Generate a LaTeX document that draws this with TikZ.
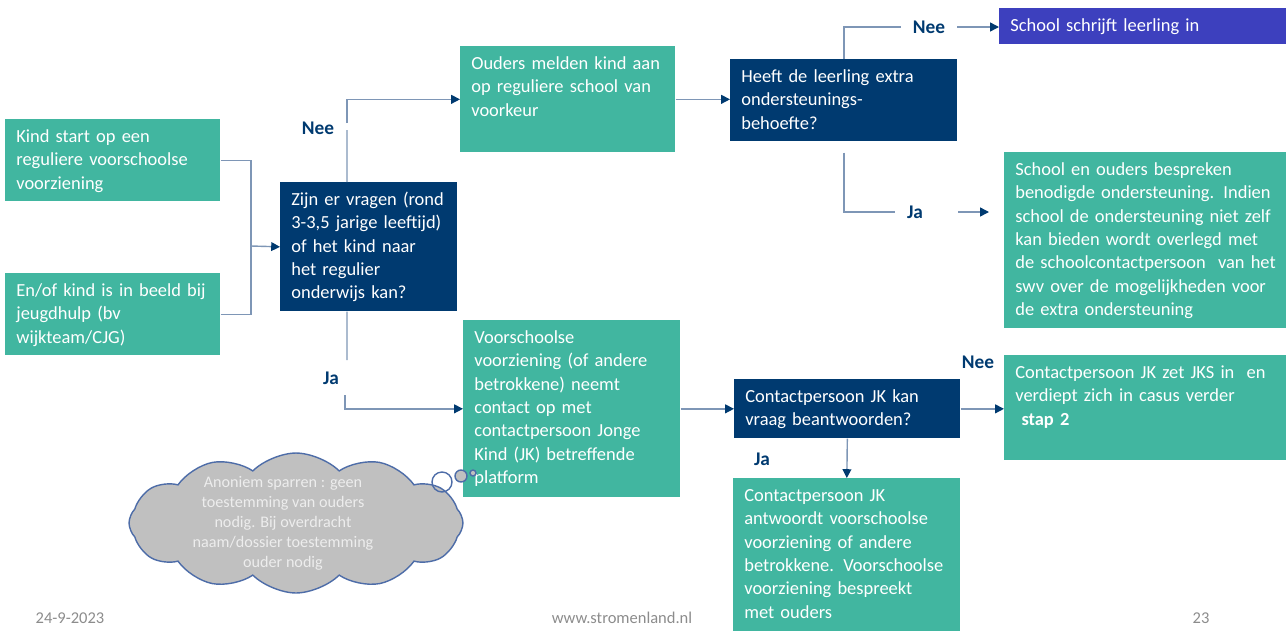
\documentclass[tikz,border=0pt]{standalone}
\usepackage{fontspec}
\setmainfont{Carlito}
\usetikzlibrary{arrows.meta,shapes.symbols}
\definecolor{groen}{HTML}{41B6A0}
\definecolor{donker}{HTML}{003A70}
\definecolor{paars}{HTML}{3D40BE}
\definecolor{lijnblauw}{HTML}{7E96B6}
\definecolor{wolkgrijs}{HTML}{C0C0C0}
\definecolor{wolkrand}{HTML}{4E6DA8}
\definecolor{voetgrijs}{HTML}{8C8C8C}
\tikzset{
	stap/.style={fill=groen, text=white, anchor=north west, align=left, inner xsep=0.22cm, inner ysep=0pt, text height=0.46cm, font=\fontsize{10.5}{13.3}\selectfont, execute at begin node={\rightskip=0pt plus 1fil minus 3cm}},
	vraag/.style={stap, fill=donker},
	keuze/.style={text=donker, font=\fontsize{11}{13.3}\selectfont\bfseries, inner xsep=0.24cm, inner ysep=0pt},
	lijn/.style={draw=lijnblauw, line width=0.8pt},
	pijl/.style={lijn, -{Triangle[length=5pt,width=5pt,color=donker]}},
	wolk/.style={cloud, cloud puffs=12, cloud puff arc=90, cloud ignores aspect, draw=wolkrand, fill=wolkgrijs, line width=0.8pt, minimum width=6.68cm, minimum height=2.8cm, inner sep=0pt},
	wolktekst/.style={align=center, text=white!93!black, font=\fontsize{9.2}{11.4}\selectfont},
	bel/.style={draw=wolkrand, line width=0.8pt},
	voet/.style={text=voetgrijs, font=\fontsize{9.4}{11}\selectfont}
}
\begin{document}
\begin{tikzpicture}[x=0.02cm, y=-0.02cm]
		%%%%% START %%%%%
		\useasboundingbox (0, 0) rectangle (1286, 630);
		
		\node[stap, text width=3.86cm, text depth=1.18cm] (kind) at (5, 119) {Kind start op een\\reguliere voorschoolse\\voorziening};
		\node[stap, text width=3.86cm, text depth=1.18cm] (beeld) at (5, 273) {En/of kind is in beeld bij\\jeugdhulp (bv\\wijkteam/CJG)};
		\node[vraag, text width=3.10cm, text depth=2.12cm] (vragen) at (280, 182) {Zijn er vragen (rond\\3-3,5 jarige leeftijd)\\of het kind naar\\het regulier\\onderwijs kan?};
		
		\node[stap, text width=3.86cm, text depth=1.66cm] (ouders) at (460, 46) {Ouders melden kind aan\\op reguliere school van\\voorkeur};
		\node[vraag, text width=4.10cm, text depth=1.18cm] (heeft) at (730, 59) {Heeft de leerling extra\\ondersteunings-\\behoefte?};
		\node[stap, fill=paars, text width=5.30cm, text depth=0.26cm] (schrijft) at (999, 8) {School schrijft leerling in};
		\node[stap, text width=5.20cm, text depth=3.06cm] (bespreken) at (1004, 152) {School en ouders bespreken\\benodigde ondersteuning. Indien\\school de ondersteuning niet zelf\\kan bieden wordt overlegd met\\de schoolcontactpersoon\ \ van het\\swv over de mogelijkheden voor\\de extra ondersteuning};
		
		\node[stap, text width=3.90cm, text depth=3.08cm] (voor) at (463, 320) {Voorschoolse\\voorziening (of andere\\betrokkene) neemt\\contact op met\\contactpersoon Jonge\\Kind (JK) betreffende\\platform};
		\node[vraag, text width=4.08cm, text depth=0.72cm] (jkkan) at (734, 379) {Contactpersoon JK kan\\vraag beantwoorden?};
		\node[stap, text width=5.20cm, text depth=1.64cm] (jkzet) at (1004, 355) {Contactpersoon JK zet JKS in\ \ en\\verdiept zich in casus verder\\\ \textbf{stap 2}};
		\node[stap, text width=4.10cm, text depth=2.64cm] (antw) at (733, 478) {Contactpersoon JK\\antwoordt voorschoolse\\voorziening of andere\\betrokkene. Voorschoolse\\voorziening bespreekt\\met ouders};
		
		% keuzes
		\node[keuze] (nee1) at (318, 128) {Nee};
		\node[keuze] (ja1) at (331, 378) {Ja};
		\node[keuze] (nee2) at (929, 27) {Nee};
		\node[keuze] (ja2) at (915, 212) {Ja};
		\node[keuze] (nee3) at (978, 362) {Nee};
		\node[keuze] (ja3) at (762, 459) {Ja};
		
		\coordinate (samen) at (251, 246);
		\coordinate (neeA) at (347, 130);
		\coordinate (neeB) at (347, 123);
		\coordinate (jaA) at (347, 360);
		\coordinate (jaB) at (345, 395);
		\coordinate (ja2eind) at (989, 212);
		
		\draw[lijn] (kind.east) -| (samen);
		\draw[lijn] (beeld.east) -| (samen);
		\draw[pijl] (samen) -- (vragen.west);
		
		\draw[lijn] ([xshift=1.34cm]vragen.north west) -- (neeA);
		\draw[pijl] (neeB) |- (ouders.west);
		\draw[lijn] ([xshift=1.34cm]vragen.south west) -- (jaA);
		\draw[pijl] (jaB) |- (voor.west);
		
		\draw[pijl] (ouders.east) -- (ouders.east -| heeft.west);
		\draw[lijn] (heeft.north) |- (nee2.west);
		\draw[pijl] (nee2.east) -- (nee2.east -| schrijft.west);
		\draw[lijn] ([yshift=-0.22cm]heeft.south) |- (ja2.west);
		\draw[pijl] ([xshift=0.46cm]ja2.east) -- (ja2eind);
		
		\draw[pijl] (voor.east) -- (voor.east -| jkkan.west);
		\draw[pijl] (jkkan.east) -- (jkkan.east -| jkzet.west);
		\draw[pijl] (jkkan.south) -- (antw.north);
		
		% wolk
		\node[wolk] (wolk) at (296, 523) {};
		\node[wolktekst] (wolkinhoud) at (283, 523) {Anoniem sparren : geen\\toestemming van ouders\\nodig. Bij overdracht\\naam/dossier toestemming\\ouder nodig};
		\draw[bel] (442, 482) circle (0.2cm);
		\draw[bel, fill=wolkgrijs] (461, 476) circle (0.12cm);
		\draw[bel, fill=wolkgrijs] (473, 473) circle (0.06cm);
		
		\node[voet] (datum) at (70, 618) {24-9-2023};
		\node[voet] (web) at (622, 618) {www.stromenland.nl};
		\node[voet] (blad) at (1201, 618) {23};
		
		%%%%% END %%%%%
	\end{tikzpicture}
\end{document}
